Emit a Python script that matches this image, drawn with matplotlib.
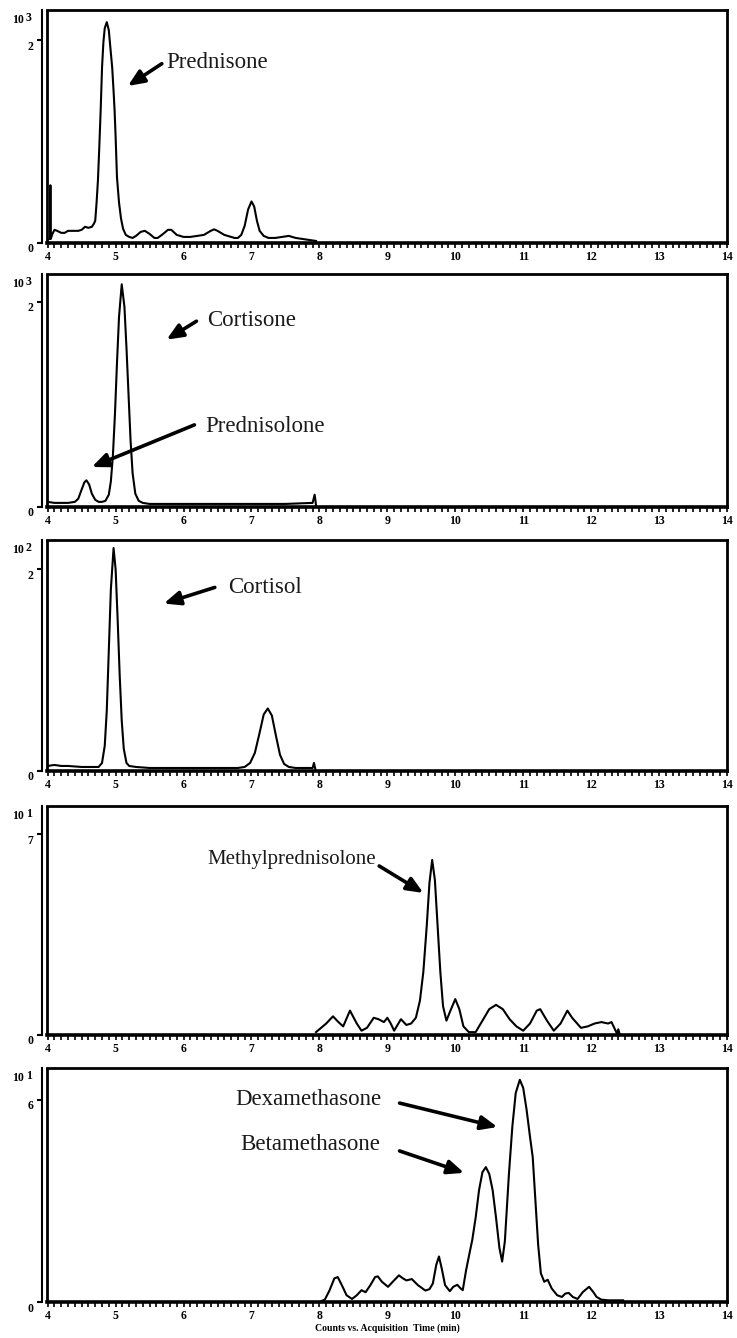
import matplotlib
matplotlib.use("Agg")
import matplotlib.pyplot as plt
import matplotlib.transforms as mtransforms
from matplotlib.ticker import MultipleLocator, FixedLocator

# ---------------------------------------------------------------- data
# Panel 1: Prednisone transition (counts x10^3)
t1 = [4.00, 4.03, 4.035, 4.04, 4.045, 4.07, 4.10, 4.14, 4.20, 4.25, 4.30, 4.35, 4.45,
      4.50, 4.55, 4.60, 4.65, 4.68, 4.70, 4.72, 4.74, 4.76, 4.78, 4.80, 4.82, 4.84,
      4.87, 4.90, 4.92, 4.95, 4.97, 4.985, 5.00, 5.02, 5.05, 5.08, 5.11, 5.15, 5.20,
      5.25, 5.30, 5.37, 5.43, 5.50, 5.57, 5.62, 5.70, 5.77, 5.82, 5.90, 6.00, 6.10,
      6.20, 6.30, 6.40, 6.45, 6.50, 6.60, 6.70, 6.75, 6.80, 6.85, 6.90, 6.95, 7.00,
      7.04, 7.08, 7.12, 7.18, 7.25, 7.35, 7.45, 7.55, 7.65, 7.75, 7.85, 7.95]
y1 = [0.04, 0.04, 0.04, 0.57, 0.04, 0.09, 0.13, 0.12, 0.10, 0.10, 0.12, 0.12, 0.12,
      0.13, 0.16, 0.15, 0.16, 0.19, 0.22, 0.40, 0.62, 0.95, 1.31, 1.73, 1.98, 2.12,
      2.18, 2.10, 1.95, 1.73, 1.50, 1.31, 1.05, 0.65, 0.40, 0.24, 0.14, 0.08, 0.06,
      0.05, 0.07, 0.11, 0.12, 0.09, 0.05, 0.05, 0.09, 0.13, 0.13, 0.08, 0.06, 0.06,
      0.07, 0.08, 0.12, 0.135, 0.12, 0.08, 0.06, 0.05, 0.05, 0.08, 0.17, 0.33, 0.41,
      0.36, 0.22, 0.12, 0.07, 0.05, 0.05, 0.06, 0.07, 0.05, 0.04, 0.03, 0.02]

# Panel 2: Prednisolone / Cortisone (counts x10^3)
t2 = [4.00, 4.10, 4.20, 4.30, 4.40, 4.45, 4.50, 4.54, 4.57, 4.61, 4.65, 4.70, 4.75,
      4.80, 4.85, 4.90, 4.93, 4.96, 4.99, 5.02, 5.05, 5.09, 5.13, 5.16, 5.19, 5.22,
      5.25, 5.29, 5.34, 5.40, 5.50, 6.00, 6.50, 7.00, 7.50, 7.90, 7.93, 7.95]
y2 = [0.05, 0.04, 0.04, 0.04, 0.05, 0.08, 0.17, 0.24, 0.26, 0.22, 0.13, 0.07, 0.05,
      0.05, 0.06, 0.12, 0.25, 0.50, 0.90, 1.40, 1.85, 2.17, 1.95, 1.55, 1.10, 0.65,
      0.33, 0.13, 0.06, 0.04, 0.03, 0.03, 0.03, 0.03, 0.03, 0.04, 0.12, 0.02]

# Panel 3: Cortisol (counts x10^2)
t3 = [4.00, 4.10, 4.20, 4.30, 4.50, 4.60, 4.70, 4.75, 4.80, 4.84, 4.87, 4.90, 4.93,
      4.97, 5.00, 5.03, 5.06, 5.09, 5.12, 5.16, 5.20, 5.30, 5.50, 6.00, 6.50, 6.80,
      6.90, 6.98, 7.05, 7.12, 7.18, 7.24, 7.30, 7.36, 7.42, 7.48, 7.55, 7.65, 7.80,
      7.90, 7.92, 7.94]
y3 = [0.05, 0.06, 0.05, 0.05, 0.04, 0.04, 0.04, 0.04, 0.08, 0.25, 0.60, 1.20, 1.80,
      2.21, 2.00, 1.50, 0.95, 0.50, 0.22, 0.08, 0.05, 0.04, 0.03, 0.03, 0.03, 0.03,
      0.04, 0.08, 0.18, 0.38, 0.56, 0.62, 0.55, 0.35, 0.16, 0.07, 0.04, 0.03, 0.03,
      0.03, 0.08, 0.02]

# Panel 4: Methylprednisolone (counts x10^1)
t4 = [7.95, 8.00, 8.10, 8.20, 8.28, 8.35, 8.45, 8.55, 8.62, 8.70, 8.80, 8.87, 8.95,
      9.00, 9.05, 9.10, 9.20, 9.28, 9.35, 9.42, 9.48, 9.53, 9.58, 9.62, 9.66, 9.70,
      9.74, 9.78, 9.82, 9.87, 9.92, 10.00, 10.06, 10.12, 10.20, 10.30, 10.40, 10.50,
      10.60, 10.70, 10.80, 10.90, 11.00, 11.10, 11.20, 11.25, 11.35, 11.45, 11.55,
      11.65, 11.72, 11.85, 11.95, 12.05, 12.15, 12.25, 12.30, 12.35, 12.38, 12.40,
      12.42, 12.45]
y4 = [0.10, 0.20, 0.40, 0.65, 0.45, 0.30, 0.85, 0.40, 0.15, 0.25, 0.60, 0.55, 0.45,
      0.60, 0.40, 0.15, 0.55, 0.35, 0.40, 0.60, 1.20, 2.20, 3.80, 5.30, 6.10, 5.40,
      3.80, 2.20, 1.00, 0.50, 0.80, 1.25, 0.90, 0.30, 0.10, 0.10, 0.50, 0.90,
      1.05, 0.90, 0.55, 0.30, 0.15, 0.40, 0.85, 0.90, 0.50, 0.15, 0.40,
      0.85, 0.60, 0.25, 0.30, 0.40, 0.45, 0.40, 0.45, 0.20, 0.05, 0.20,
      0.02, 0.00]

# Panel 5: Betamethasone / Dexamethasone (counts x10^1)
t5 = [8.03, 8.08, 8.15, 8.22, 8.27, 8.33, 8.40, 8.48, 8.55, 8.62, 8.68, 8.75, 8.82,
      8.86, 8.92, 9.01, 9.08, 9.17, 9.23, 9.28, 9.36, 9.45, 9.56, 9.62, 9.67, 9.72,
      9.76, 9.80, 9.85, 9.92, 9.97, 10.03, 10.08, 10.11, 10.16, 10.21, 10.25, 10.30,
      10.35, 10.40, 10.45, 10.50, 10.55, 10.60, 10.65, 10.69, 10.73, 10.76, 10.79,
      10.84, 10.89, 10.95, 11.00, 11.05, 11.10, 11.14, 11.18, 11.22, 11.26, 11.31,
      11.36, 11.42, 11.50, 11.57, 11.62, 11.67, 11.73, 11.80, 11.88, 11.97, 12.03,
      12.08, 12.15, 12.25, 12.47]
y5 = [0.03, 0.07, 0.35, 0.70, 0.74, 0.50, 0.20, 0.09, 0.20, 0.35, 0.29, 0.50, 0.74,
      0.76, 0.60, 0.45, 0.60, 0.79, 0.70, 0.64, 0.68, 0.50, 0.34, 0.38, 0.55, 1.10,
      1.35, 1.00, 0.50, 0.32, 0.45, 0.51, 0.40, 0.35, 0.95, 1.45, 1.84, 2.50,
      3.32, 3.85, 4.00, 3.80, 3.32, 2.50, 1.60, 1.20, 1.80, 2.80, 3.80,
      5.20, 6.20, 6.59, 6.35, 5.70, 4.90, 4.30, 3.00, 1.70, 0.85, 0.60,
      0.66, 0.40, 0.20, 0.15, 0.25, 0.27, 0.15, 0.09, 0.30, 0.45, 0.30,
      0.15, 0.07, 0.05, 0.05]

x_ticks = [4, 5, 6, 7, 8, 9, 10, 11, 12, 13, 14]
x_label = "Counts vs. Acquisition  Time (min)"

panels = [
    dict(t=t1, y=y1, exp="3", ytop=2.30, yticks=[0, 2]),
    dict(t=t2, y=y2, exp="3", ytop=2.27, yticks=[0, 2]),
    dict(t=t3, y=y3, exp="2", ytop=2.29, yticks=[0, 2]),
    dict(t=t4, y=y4, exp="1", ytop=7.98, yticks=[0, 7]),
    dict(t=t5, y=y5, exp="1", ytop=6.94, yticks=[0, 6]),
]

# compound labels: (panel, text, font size, text xy, arrow tail, arrow head) in data units
labels = [
    (0, "Prednisone", 16.5, (5.75, 1.78), (5.68, 1.77), (5.18, 1.55)),
    (1, "Cortisone", 16.5, (6.35, 1.82), (6.19, 1.81), (5.75, 1.63)),
    (1, "Prednisolone", 16.5, (6.32, 0.78), (6.16, 0.80), (4.65, 0.39)),
    (2, "Cortisol", 16.5, (6.65, 1.82), (6.46, 1.82), (5.71, 1.66)),
    (3, "Methylprednisolone", 15, (6.35, 6.10), (8.88, 5.89), (9.53, 4.95)),
    (4, "Dexamethasone", 16.5, (6.76, 6.00), (9.18, 5.90), (10.62, 5.19)),
    (4, "Betamethasone", 16.5, (6.84, 4.66), (9.18, 4.48), (10.13, 3.83)),
]

# ---------------------------------------------------------------- layout
W, H = 737, 1338
fig = plt.figure(figsize=(W / 100, H / 100), dpi=100)
fig.patch.set_facecolor("white")

left_px, right_px = 47, 727
frames_px = [(10, 243), (274, 507), (540, 771), (806, 1035), (1068, 1302)]

tick_font = dict(family="Liberation Serif", weight="bold", size=8.5)

axes = []
for (top, bot), p in zip(frames_px, panels):
    ax = fig.add_axes([left_px / W, 1 - bot / H, (right_px - left_px) / W, (bot - top) / H])
    axes.append(ax)
    ax.plot(p["t"], p["y"], color="black", lw=1.5, solid_joinstyle="round")
    ax.set_xlim(3.99, 14.0)
    ax.set_ylim(0, p["ytop"])

    for side in ("top", "right"):
        ax.spines[side].set_linewidth(2.0)
    ax.spines["bottom"].set_linewidth(2.6)
    # outer y axis line, separate from the frame
    ax.spines["left"].set_position(("outward", 3.5))
    ax.spines["left"].set_linewidth(1.5)
    ax.plot([0, 0], [0, 1], transform=ax.transAxes, color="black", lw=2.0,
            clip_on=False, solid_capstyle="butt")

    ax.xaxis.set_major_locator(FixedLocator(x_ticks))
    ax.xaxis.set_minor_locator(MultipleLocator(0.1))
    ax.tick_params(axis="x", which="both", direction="out", length=3.5, width=1.2, pad=2)
    ax.tick_params(axis="y", which="major", direction="out", length=3.5, width=1.5, pad=3)
    ax.set_yticks(p["yticks"])
    ax.set_xticklabels([str(v) for v in x_ticks], fontdict=tick_font)
    ax.set_yticklabels([str(v) for v in p["yticks"]], fontdict=tick_font)
    shift = mtransforms.ScaledTranslation(0, -5 / 100, fig.dpi_scale_trans)
    for lab in ax.get_yticklabels():
        lab.set_transform(lab.get_transform() + shift)

    # scale factor label
    fig.text(12 / W, 1 - (top + 10) / H, "10", ha="left", va="center", **tick_font)
    fig.text(26 / W, 1 - (top + 8) / H, p["exp"], ha="left", va="center", **tick_font)

for idx, text, size, txy, tail, head in labels:
    ax = axes[idx]
    ax.text(txy[0], txy[1], text, ha="left", va="center",
            family="Liberation Serif", size=size, color="#1a1a1a")
    ax.annotate("", xy=head, xytext=tail,
                arrowprops=dict(arrowstyle="-|>,head_length=0.7,head_width=0.3",
                                lw=2.6, color="black", shrinkA=0, shrinkB=0,
                                mutation_scale=14))

fig.text(387 / W, 1 - 1328 / H, x_label, ha="center", va="center",
         family="Liberation Serif", weight="bold", size=7)

fig.savefig("out.png", dpi=100, facecolor="white")
